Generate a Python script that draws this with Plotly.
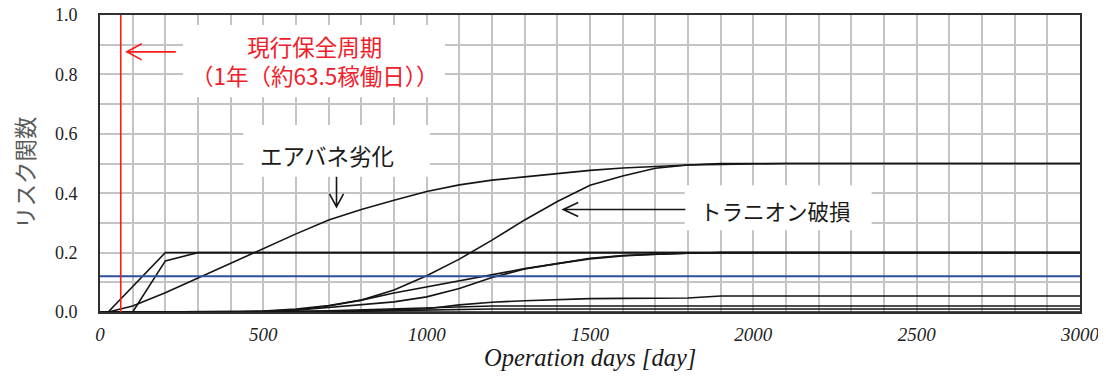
import plotly.graph_objects as go

# ---------------- data ----------------
air_days = [25, 100, 200, 300, 400, 500, 600, 700, 800, 900, 1000, 1100, 1200,
            1300, 1400, 1500, 1600, 1700, 1800, 1900, 2000, 2100, 3000]
air_vals = [0, 0.02, 0.065, 0.115, 0.165, 0.215, 0.263, 0.31, 0.345, 0.376, 0.406,
            0.428, 0.444, 0.455, 0.467, 0.477, 0.485, 0.491, 0.495, 0.497, 0.499, 0.5, 0.5]

fast_days = [25, 200, 3000]
fast_vals = [0, 0.2, 0.2]

fast2_days = [100, 200, 300, 3000]
fast2_vals = [0, 0.172, 0.2, 0.2]

tr_days = [0, 400, 500, 600, 700, 800, 900, 1000, 1100, 1200, 1300, 1400, 1500,
           1600, 1700, 1800, 1900, 3000]
tr_vals = [0, 0, 0.002, 0.007, 0.02, 0.04, 0.074, 0.122, 0.178, 0.242, 0.31,
           0.372, 0.427, 0.458, 0.484, 0.495, 0.5, 0.5]

d_days = [0, 400, 500, 600, 700, 800, 900, 1000, 1100, 1200, 1300, 1400, 1500,
          1600, 1700, 1800, 1900, 3000]
d_vals = [0, 0, 0.003, 0.01, 0.022, 0.04, 0.064, 0.084, 0.104, 0.124, 0.146,
          0.163, 0.179, 0.189, 0.195, 0.198, 0.2, 0.2]
e_vals = [0, 0, 0.002, 0.006, 0.016, 0.025, 0.034, 0.051, 0.079, 0.116, 0.145,
          0.163, 0.181, 0.19, 0.195, 0.198, 0.2, 0.2]

f_days = [0, 600, 700, 800, 900, 1000, 1100, 1200, 1300, 1400, 1500, 1600, 1700,
          1800, 1900, 3000]
f_vals = [0, 0, 0.002, 0.004, 0.007, 0.011, 0.024, 0.033, 0.038, 0.042, 0.045,
          0.046, 0.046, 0.047, 0.054, 0.054]

g_days = [0, 500, 700, 900, 1000, 1100, 1200, 3000]
g_vals = [0, 0, 0.004, 0.01, 0.014, 0.018, 0.02, 0.02]

h_days = [0, 600, 800, 1000, 1100, 1200, 3000]
h_vals = [0, 0, 0.003, 0.007, 0.009, 0.01, 0.01]

zero_days = [0, 3000]
zero_vals = [0, 0]

maint_cycle = 63.5          # red vertical line (days)
threshold = 0.12            # blue horizontal line

x_ticks = [0, 500, 1000, 1500, 2000, 2500, 3000]
y_ticks = [0.0, 0.2, 0.4, 0.6, 0.8, 1.0]

label_red1 = "現行保全周期"
label_red2 = "（1年（約63.5稼働日））"
label_air = "エアバネ劣化"
label_tr = "トラニオン破損"
x_title = "Operation days [day]"
y_title = "リスク関数"

# ---------------- figure ----------------
fig = go.Figure()
CURVE = dict(color="#151515", width=1.6)
series = [
    (zero_days, zero_vals), (h_days, h_vals), (g_days, g_vals), (f_days, f_vals),
    (d_days, d_vals), (d_days, e_vals), (tr_days, tr_vals),
    (fast_days, fast_vals), (fast2_days, fast2_vals), (air_days, air_vals),
]
for xs, ys in series:
    fig.add_trace(go.Scatter(x=xs, y=ys, mode="lines", line=CURVE,
                             showlegend=False, hoverinfo="skip"))

# reference lines
fig.add_trace(go.Scatter(x=[0, 3000], y=[threshold, threshold], mode="lines",
                         line=dict(color="#2d4f9e", width=2), showlegend=False))
fig.add_trace(go.Scatter(x=[maint_cycle, maint_cycle], y=[0, 1], mode="lines",
                         line=dict(color="#ff1a1a", width=1.6), showlegend=False))

# white label backgrounds (over the grid, under the traces)
for x0, x1, y0, y1 in [(254, 1056, 0.723, 0.966), (439, 1010, 0.455, 0.63),
                       (1790, 2362, 0.275, 0.427)]:
    fig.add_shape(type="rect", x0=x0, x1=x1, y0=y0, y1=y1, xref="x", yref="y",
                  fillcolor="white", line=dict(width=0), layer="between")


def arrow_path(x0, y0, x1, y1, hx, hy, direction):
    # shaft from (x0,y0) to tip (x1,y1) plus open V head
    if direction == "left":
        head = f"M{x1 + hx},{y1 + hy} L{x1},{y1} L{x1 + hx},{y1 - hy}"
    else:  # down
        head = f"M{x1 - hx},{y1 + hy} L{x1},{y1} L{x1 + hx},{y1 + hy}"
    return f"M{x0},{y0} L{x1},{y1} " + head


PXX = 3000 / 980.0   # days per pixel
PXY = 1 / 296.7      # units per pixel
fig.add_shape(type="path", path=arrow_path(232, 0.876, 82, 0.876, 15 * PXX, 8 * PXY, "left"),
              line=dict(color="#ff1a1a", width=1.6))
fig.add_shape(type="path", path=arrow_path(724, 0.455, 724, 0.354, 7 * PXX, 13 * PXY, "down"),
              line=dict(color="#151515", width=1.6))
fig.add_shape(type="path", path=arrow_path(1792, 0.345, 1418, 0.345, 15 * PXX, 7 * PXY, "left"),
              line=dict(color="#151515", width=1.6))

JP = "Noto Sans CJK JP"
fig.add_annotation(x=656, y=0.847, text=label_red1 + "<br>" + label_red2, showarrow=False,
                   xanchor="center", yanchor="middle", align="center",
                   font=dict(family=JP, size=22.5, color="#f0202a"))
fig.add_annotation(x=696, y=0.528, text=label_air, showarrow=False,
                   font=dict(family=JP, size=22.5, color="#1a1a1a"))
fig.add_annotation(x=2069, y=0.342, text=label_tr, showarrow=False,
                   font=dict(family=JP, size=21.5, color="#1a1a1a"))
fig.add_annotation(x=-0.077, y=0.47, xref="paper", yref="paper", text=y_title,
                   textangle=-90, showarrow=False, xanchor="center", yanchor="middle",
                   font=dict(family=JP, size=22.5, color="#5a5a5a"))
fig.add_annotation(x=0.5, y=-0.154, xref="paper", yref="paper", text=x_title,
                   showarrow=False, xanchor="center", yanchor="middle",
                   font=dict(family="Liberation Serif", size=24.5, color="#1a1a1a",
                             style="italic"))

GRID = "#c4c4c4"
fig.update_xaxes(range=[0, 3000], tickvals=x_ticks, ticktext=[str(v) for v in x_ticks],
                 showgrid=True, gridcolor=GRID, gridwidth=1.5,
                 minor=dict(dtick=100, tick0=0, showgrid=True, gridcolor=GRID, gridwidth=1.5),
                 showline=True, mirror=True, linecolor="#303030", linewidth=2,
                 zeroline=False, ticks="", ticklabelstandoff=4, automargin=False,
                 ticklabeloverflow="allow",
                 tickfont=dict(family="Liberation Serif", size=19, color="#222222",
                               style="italic"))
fig.update_yaxes(range=[0, 1], tickvals=y_ticks, ticktext=[f"{v:.1f}" for v in y_ticks],
                 showgrid=True, gridcolor=GRID, gridwidth=1.5,
                 minor=dict(dtick=0.1, tick0=0, showgrid=True, gridcolor=GRID, gridwidth=1.5),
                 showline=True, mirror=True, linecolor="#303030", linewidth=2,
                 zeroline=False, ticks="", ticklabelstandoff=17, automargin=False,
                 ticklabeloverflow="allow",
                 tickfont=dict(family="Liberation Serif", size=18, color="#222222"))

# the page body adds an 8px offset; margins compensate so the plot area
# lands at x 100..1080, y 15..312 in the photographed window
fig.update_layout(width=1106, height=376, margin=dict(l=92, r=34, t=7, b=72),
                  paper_bgcolor="white", plot_bgcolor="white", showlegend=False)

fig.write_html("out.html")
